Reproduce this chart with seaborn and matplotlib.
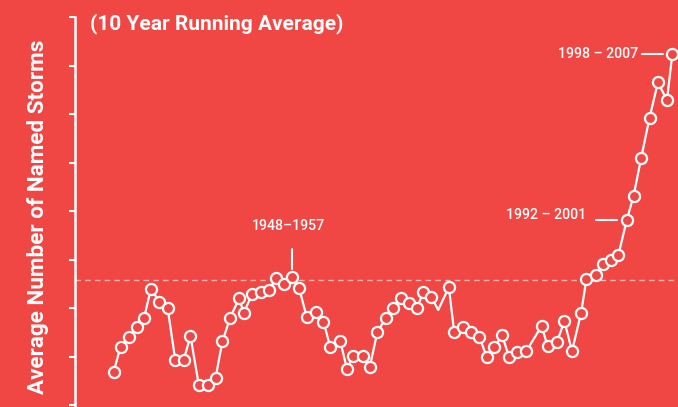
import matplotlib
matplotlib.use('Agg')
import pandas as pd
import seaborn as sns
import numpy as np
from matplotlib import pyplot as plt

# 10 year running average of named storms (end year of window)
years = [
    1933.5, 1934.4, 1935.5, 1936.6, 1937.5, 1938.4, 1939.5, 1940.6, 1941.6, 1942.7,
    1943.6, 1944.7, 1945.9, 1946.9, 1947.8, 1948.8, 1950.0, 1950.6, 1951.7, 1952.9,
    1953.9, 1954.9, 1955.9, 1957.0, 1957.9, 1958.9, 1960.1, 1961.1, 1962.0, 1963.3,
    1964.2, 1965.0, 1966.3, 1967.2, 1968.2, 1969.3, 1970.2, 1971.3, 1972.4, 1973.4,
    1974.2, 1975.3, 1976.2, 1977.6, 1978.3, 1979.4, 1980.5, 1981.6, 1982.6, 1983.6,
    1984.6, 1985.5, 1986.6, 1987.8, 1989.8, 1990.6, 1991.8, 1992.8, 1993.8, 1995.0,
    1995.7, 1997.0, 1997.9, 1998.9, 1999.9, 2001.0, 2001.9, 2002.9, 2004.0, 2005.1,
    2006.3, 2007.0,
]
storms = [
    6.69, 7.20, 7.40, 7.60, 7.80, 8.40, 8.13, 7.99, 6.93, 6.93,
    7.42, 6.41, 6.41, 6.56, 7.31, 7.79, 8.20, 7.90, 8.28, 8.32,
    8.38, 8.61, 8.49, 8.63, 8.41, 7.81, 7.92, 7.72, 7.19, 7.32,
    6.74, 7.01, 7.01, 6.79, 7.51, 7.79, 8.01, 8.21, 8.11, 7.99,
    8.32, 8.22, 7.96, 8.43, 7.50, 7.61, 7.51, 7.41, 6.98, 7.19,
    7.44, 7.00, 7.10, 7.11, 7.63, 7.21, 7.29, 7.73, 7.11, 7.90,
    8.60, 8.69, 8.91, 9.00, 9.09, 9.81, 10.31, 11.09, 11.92, 12.65,
    12.29, 13.23,
]
# one vertex in the original has no circle on it
no_marker = [1976.2]

long_term_avg = 8.58
ytick_values = [6, 7, 8, 9, 10, 11, 12, 13, 14]

title = "(10 Year Running Average)"
ylabel = "Average Number of Named Storms"
labels = {
    "1948\u20131957": 1957.0,
    "1992 \u2013 2001": 2001.0,
    "1998 \u2013 2007": 2007.0,
}

df = pd.DataFrame({'Year': years, 'Storms': storms})
df['Marker'] = ~df['Year'].isin(no_marker)

RED = '#F04744'
WHITE = '#FFFFFF'

sns.set_theme(style='white')
plt.rcParams['font.family'] = ['Roboto', 'DejaVu Sans']

fig = plt.figure(figsize=(6.78, 4.07), dpi=100, facecolor=RED)
ax = fig.add_axes([74.5 / 678, 0, 1 - 74.5 / 678, 390 / 407])
ax.set_facecolor(RED)

ax.axhline(long_term_avg, color='#F9B5B3', lw=1, ls=(0, (4, 3)), zorder=1)

sns.lineplot(data=df, x='Year', y='Storms', estimator=None, sort=False,
             color=WHITE, lw=1.6, ax=ax, zorder=2, clip_on=False)
sns.scatterplot(data=df[df['Marker']], x='Year', y='Storms', s=64,
                color=RED, edgecolor=WHITE, linewidth=1.6, ax=ax,
                zorder=3, clip_on=False)

ax.set_xlim(1928.34, 2007.75)
ax.set_ylim(6 - 2 / 48.5, 14)
ax.set_xticks([])
ax.set_yticks(ytick_values)
ax.set_yticklabels([])
ax.tick_params(axis='y', direction='out', length=4.5, width=1.5,
               color=WHITE, left=True)
ax.set_xlabel('')
ax.set_ylabel('')
for side in ['top', 'right', 'bottom']:
    ax.spines[side].set_visible(False)
ax.spines['left'].set_color(WHITE)
ax.spines['left'].set_linewidth(1.8)

# annotations
sty = dict(color=WHITE, fontsize=10.2, fontweight='medium')
lbl = list(labels.items())
# 1948-1957: above the peak, with a vertical tick
t, yr = lbl[0]
y0 = df.loc[df['Year'] == yr, 'Storms'].iloc[0]
ax.annotate(t, xy=(yr, y0), xytext=(-3, 32), textcoords='offset points',
            ha='center', va='bottom', **sty)
ax.plot([yr, yr], [y0 + 0.17, y0 + 0.58], color=WHITE, lw=1.5)

# 1992-2001 and 1998-2007: label to the left with a horizontal dash
for (t, yr), dx_line, dy_text in [(lbl[1], 7.0, 4), (lbl[2], 2.5, 0.5)]:
    y0 = df.loc[df['Year'] == yr, 'Storms'].iloc[0]
    x_end = yr - 1.25
    x_start = x_end - 2.8
    ax.plot([x_start, x_end], [y0, y0], color=WHITE, lw=1.5, clip_on=False)
    ax.annotate(t, xy=(x_start, y0), xytext=(-dx_line, dy_text),
                textcoords='offset points', ha='right', va='center', **sty)

fig.text(90 / 678, 1 - 24 / 407, title, color=WHITE, fontsize=15,
         fontweight='bold', ha='left', va='center')
fig.text(38 / 678, 1 - 217 / 407, ylabel, color=WHITE, fontsize=16.2,
         fontweight='bold', ha='center', va='center', rotation=90)

fig.savefig('out.png', dpi=100, facecolor=RED)
